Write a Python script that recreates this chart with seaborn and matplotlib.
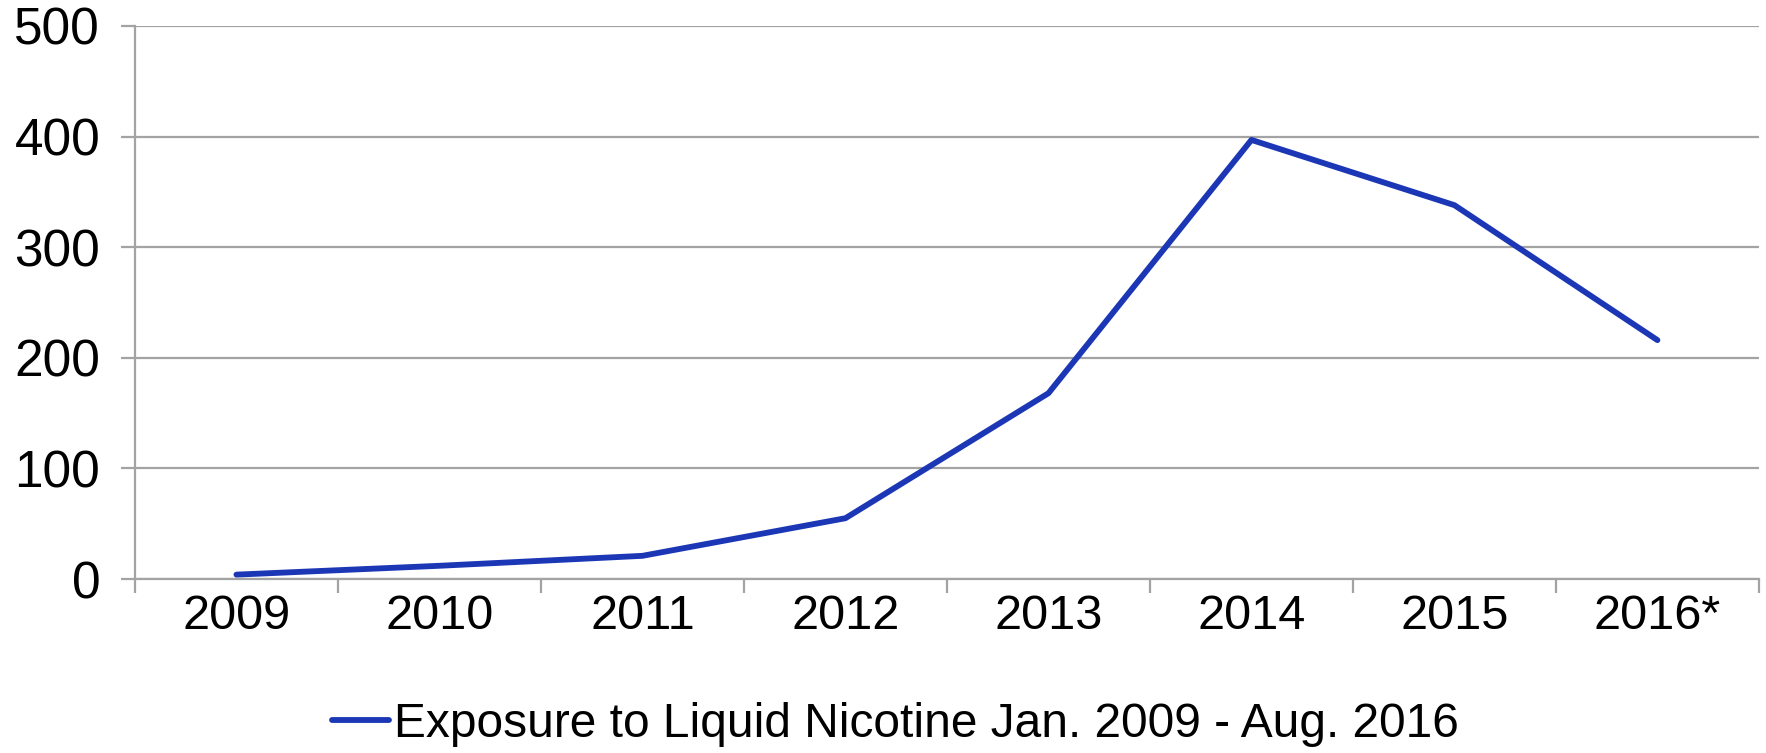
import matplotlib
matplotlib.use("Agg")
from matplotlib import pyplot as plt
from matplotlib.ticker import FixedLocator
import pandas as pd
import seaborn as sns

years = ["2009", "2010", "2011", "2012", "2013", "2014", "2015", "2016*"]
exposures = [4, 12, 21, 55, 168, 397, 338, 216]
series_name = "Exposure to Liquid Nicotine Jan. 2009 - Aug. 2016"
y_ticks = [0, 100, 200, 300, 400, 500]

df = pd.DataFrame({"year": years, "count": exposures})

sns.set_style("white")
plt.rcParams["font.family"] = ["Liberation Sans", "DejaVu Sans"]
plt.rcParams["text.color"] = "black"
plt.rcParams["xtick.labelcolor"] = "black"
plt.rcParams["ytick.labelcolor"] = "black"

grey = "#a3a3a3"
blue = "#1c37b5"

fig = plt.figure(figsize=(17.66, 7.53), dpi=100)
ax = fig.add_axes([0.0764, 0.231, 0.9196, 0.7345])

sns.lineplot(data=df, x="year", y="count", color=blue, linewidth=4.2,
             solid_capstyle="round", label=series_name, ax=ax, legend=False)

ax.set_xlim(-0.5, len(years) - 0.5)
ax.set_ylim(0, 500)
ax.set_yticks(y_ticks)
ax.set_yticklabels([str(t) for t in y_ticks])
ax.grid(axis="y", color=grey, linewidth=1.6)
ax.set_axisbelow(True)

# category labels at centres, tick marks at the boundaries
ax.set_xticks(range(len(years)))
ax.set_xticklabels(years)
ax.xaxis.set_minor_locator(FixedLocator([i - 0.5 for i in range(len(years) + 1)]))
ax.tick_params(axis="x", which="major", length=0, pad=11, labelsize=35)
ax.tick_params(axis="x", which="minor", length=10, width=1.6, color=grey,
               direction="out", bottom=True)
ax.tick_params(axis="y", which="major", length=10, width=1.6, color=grey,
               direction="out", left=True, pad=15, labelsize=37)

for side in ["top", "right"]:
    ax.spines[side].set_visible(False)
for side in ["left", "bottom"]:
    ax.spines[side].set_color(grey)
    ax.spines[side].set_linewidth(1.6)

ax.set_xlabel("")
ax.set_ylabel("")

handles, labels = ax.get_legend_handles_labels()
fig.legend(handles, labels, loc="center", bbox_to_anchor=(0.507, 0.038),
           frameon=False, fontsize=34.5, handlelength=1.2, handletextpad=0.1)

fig.savefig("out.png", dpi=100)
